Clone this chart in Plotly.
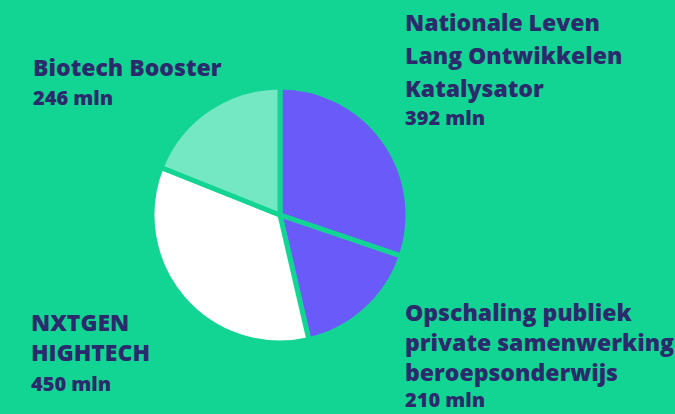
import plotly.graph_objects as go

labels = ["Nationale Leven Lang Ontwikkelen Katalysator",
          "Opschaling publiek private samenwerking beroepsonderwijs",
          "NXTGEN HIGHTECH",
          "Biotech Booster"]
values = [392, 210, 450, 246]
colors = ["#6a5af9", "#6a5af9", "#ffffff", "#74e8c2"]

title_lines = [
    ["Nationale Leven", "Lang Ontwikkelen", "Katalysator"],
    ["Opschaling publiek", "private samenwerking", "beroepsonderwijs"],
    ["NXTGEN", "HIGHTECH"],
    ["Biotech Booster"],
]
value_texts = ["392 mln", "210 mln", "450 mln", "246 mln"]

BG = "#12d594"
TXT = "#2a2a6c"
W, H = 675, 414

fig = go.Figure(go.Pie(
    labels=labels, values=values, sort=False, direction="clockwise", rotation=0,
    marker=dict(colors=colors, line=dict(color=BG, width=5)),
    textinfo="none", hoverinfo="label+value", showlegend=False,
    domain=dict(x=[152/W, 408/W], y=[1-343/H, 1-87/H]),
))

anchors = [
    (403, [22, 55, 88], 118),
    (403, [312, 342, 372], 399),
    (29, [322, 352], 383),
    (31, [67], 98),
]
ann = []
for (x, ys, vy), lines, vt in zip(anchors, title_lines, value_texts):
    for y, t in zip(ys, lines):
        ann.append(dict(x=x/W, y=1-y/H, xref="paper", yref="paper", xanchor="left", yanchor="middle",
                        text=t, showarrow=False,
                        font=dict(family="Open Sans", size=23, color=TXT, weight=800)))
    ann.append(dict(x=x/W, y=1-vy/H, xref="paper", yref="paper", xanchor="left", yanchor="middle",
                    text=vt, showarrow=False,
                    font=dict(family="Open Sans", size=20, color=TXT, weight=800)))

fig.update_layout(width=W, height=H, margin=dict(l=0, r=0, t=0, b=0),
                  paper_bgcolor=BG, plot_bgcolor=BG, annotations=ann)
fig.write_html("out.html", config={"displayModeBar": False},
               post_script="document.body.style.margin='0';document.body.style.background='%s';" % BG)
